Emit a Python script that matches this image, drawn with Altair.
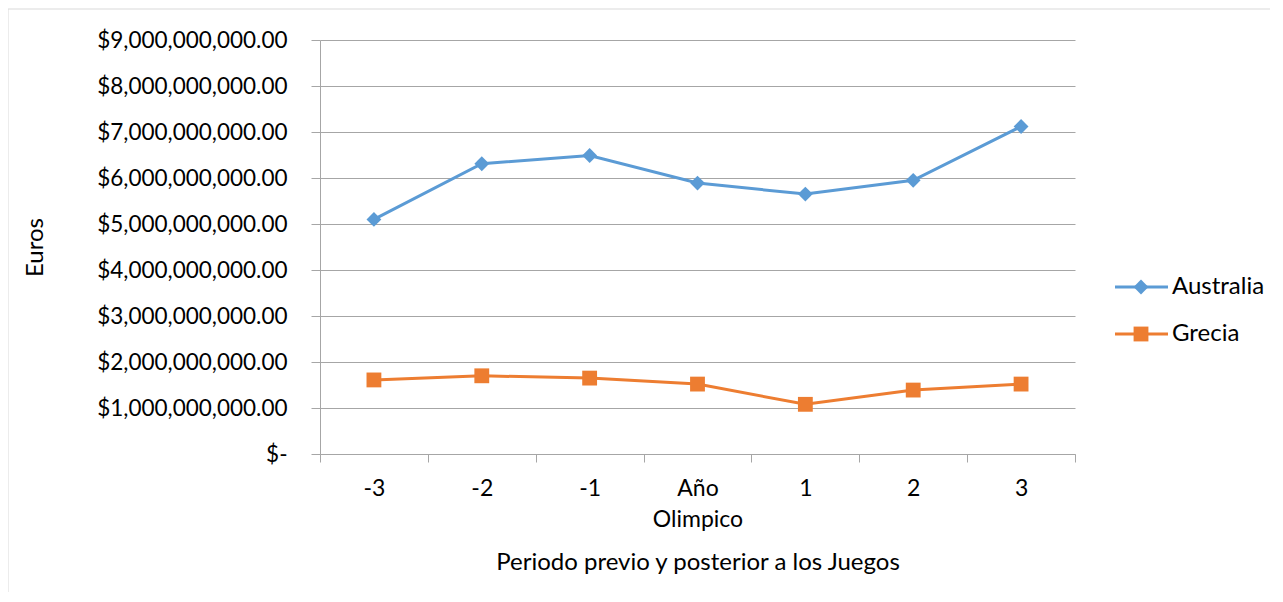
import altair as alt
import pandas as pd

periodos = ["-3", "-2", "-1", "Año Olimpico", "1", "2", "3"]
australia = [5.10e9, 6.31e9, 6.49e9, 5.89e9, 5.65e9, 5.95e9, 7.12e9]
grecia = [1.61e9, 1.70e9, 1.65e9, 1.52e9, 1.08e9, 1.39e9, 1.52e9]
series = ["Australia", "Grecia"]
colores = ["#5B9BD5", "#ED7D31"]
formas = ["diamond", "square"]
y_ticks = [0, 1e9, 2e9, 3e9, 4e9, 5e9, 6e9, 7e9, 8e9, 9e9]

df = pd.DataFrame({
    "Periodo": periodos * 2,
    "Serie": [series[0]] * len(periodos) + [series[1]] * len(periodos),
    "Euros": australia + grecia,
})
leg_df = pd.DataFrame({"Serie": series})
frame_df = pd.DataFrame({"k": [0]})

FONT = "Lato"
GRID = "#a6a6a6"
NBSP = "\u00a0"

color = alt.Color("Serie:N", scale=alt.Scale(domain=series, range=colores), legend=None)
shape = alt.Shape("Serie:N", scale=alt.Scale(domain=series, range=formas), legend=None)

x = alt.X(
    "Periodo:N", sort=periodos,
    scale=alt.Scale(type="band", paddingInner=0, paddingOuter=0),
    axis=alt.Axis(
        title="Periodo previo y posterior a los Juegos",
        tickBand="extent", labelAngle=0, grid=False,
        tickSize=8, labelPadding=15, labelLineHeight=31, labelFontSize=23,
        labelExpr="datum.value == 'Año Olimpico' ? ['Año', 'Olimpico'] : datum.value",
        titleY=108, titleBaseline="middle",
        domainColor=GRID, tickColor=GRID,
    ),
)
y = alt.Y(
    "Euros:Q",
    scale=alt.Scale(domain=[0, 9e9], nice=False),
    axis=alt.Axis(
        title="Euros", values=y_ticks, tickSize=9, labelPadding=24, labelFontSize=22.5,
        labelLimit=400,
        labelExpr="datum.value == 0 ? '$-" + NBSP * 2 + "' : '$' + format(datum.value, ',.2f')",
        gridColor=GRID, domainColor=GRID, tickColor=GRID,
        titleX=-285, titleY=207, titleAngle=270,
        titleAlign="center", titleBaseline="middle",
    ),
)

base = alt.Chart(df)
lines = base.mark_line(strokeWidth=3).encode(x=x, y=y, color=color)
points = base.mark_point(filled=True, opacity=1, size=220).encode(x=x, y=y, color=color, shape=shape)
main = alt.layer(lines, points)

ly = alt.Y("Serie:N", scale=alt.Scale(type="point", domain=series, range=[247, 294], padding=0), axis=None)
leg_base = alt.Chart(leg_df)
leg_rule = leg_base.mark_rule(strokeWidth=3).encode(x=alt.value(795), x2=alt.value(848), y=ly, color=color)
leg_pt = leg_base.mark_point(filled=True, opacity=1, size=220).encode(x=alt.value(821), y=ly, color=color, shape=shape)
leg_txt = leg_base.mark_text(align="left", baseline="middle", font=FONT, fontSize=24, color="#000000").encode(
    x=alt.value(852), y=ly, text="Serie:N")
frame = alt.Chart(frame_df).mark_rect(fill=None, stroke="#d9d9d9", strokeWidth=1, clip=False).encode(
    x=alt.value(-312), x2=alt.value(1100), y=alt.value(-31), y2=alt.value(700))
legend = alt.layer(leg_rule, leg_pt, leg_txt)

chart = alt.layer(frame, main, legend).resolve_scale(y="independent").properties(
    width=755, height=414,
    autosize=alt.AutoSizeParams(type="none"),
    padding={"left": 312, "top": 32, "right": 195, "bottom": 138},
).configure_view(stroke=None).configure_axis(
    labelFont=FONT, labelColor="#000000",
    titleFont=FONT, titleFontSize=24, titleFontWeight="normal", titleColor="#000000",
)

chart.save("out.html", embed_options={"renderer": "svg", "actions": False})
